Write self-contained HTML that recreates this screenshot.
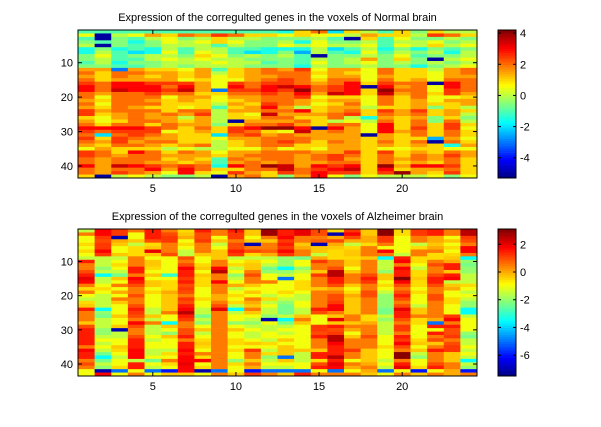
<!DOCTYPE html>
<html><head><meta charset="utf-8"><style>
body{margin:0;background:#fff;width:601px;height:422px;overflow:hidden;font-family:"Liberation Sans",sans-serif}
svg text{font-family:"Liberation Sans",sans-serif;font-size:11px}
</style></head><body>
<svg id="fig" width="601" height="422" viewBox="0 0 601 422"></svg>
<script>
const xTicks=[5,10,15,20];
const yTicks=[10,20,30,40];
const cbTicksTop=[4,2,0,-2,-4];
const cbTicksBot=[2,0,-2,-4,-6];
const normalRows=[
"-1 -1 -1 -1 -1 -1 -1 -1 -1 -1 -1 -1 -1.5 1 2 -2 1 0 -1 1 -0.5 1 0 0",
"0.5 -5 0 0.5 1.5 1 2 1.5 2.5 2 1 1 0.5 1 0.5 0.5 0 1.5 1 1 0 2.5 2 1",
"-1 -5 -0.5 -1 0 0.5 -0.5 0 1 0 0 -0.5 -0.5 -0.5 0 -1 -5 1 -1 0.5 -0.5 -0.5 0 -0.5",
"-0.5 -1 -0.5 -1.5 -0.5 0.5 0 0.5 1 0.5 -0.5 -0.5 0 -1.5 0.5 -0.5 -0.5 0 -1 0 0 0.5 -0.5 0",
"0 -5 -0.5 -1 -0.5 0 0 0 -1 0 -0.5 -0.5 0.5 0 0.5 0 0 0.5 -1 0.5 0 1 0 0.5",
"-1.5 -0.5 -1.5 -1 -1.5 0 -1 0 0 -1 -1 -1.5 -1.5 -1.5 0 -2 -1 0 -1.5 -0.5 -1.5 -0.5 -1 -0.5",
"-1.5 0 -1 -2 -1.5 0.5 -1 0.5 0 -1 -2 -1.5 -0.5 -2.5 0 -1 -1.5 0.5 -1 0 -0.5 0 -1.5 0",
"-0.5 0.5 -1 -0.5 0 0 -0.5 1 0.5 -0.5 0 -0.5 0 -1 -5 -0.5 -0.5 0 -0.5 0.5 -1 -0.5 -0.5 0",
"-0.5 0 -1 -1 0 0.5 0 0.5 0 0 -0.5 -0.5 -0.5 -1 0 -0.5 0 1.5 -0.5 1 -0.5 -5 0 0.5",
"-1 0 -1.5 -0.5 -0.5 0 0 0 0.5 0 0 -1 -0.5 -1 0.5 -0.5 0 0.5 -0.5 0 -0.5 0 -0.5 0",
"-0.5 -0.5 -1 -1 -0.5 0 -0.5 0 0 0 -0.5 -0.5 -0.5 -1.5 0 -0.5 -0.5 0 -0.5 -0.5 -1.5 -0.5 0 0.5",
"1.5 1.5 -3 1.5 1 1 0.5 1.5 -1 1 1.5 2 1.5 2.5 0.5 1.5 1.5 0.5 2 1 1 0 1.5 2",
"2 1 2 2 1.5 1.5 1 1.5 0 1 1.5 2 2 2 1 1.5 1 0.5 2 1 1 0.5 1.5 2",
"1.5 1 2 1.5 1 1.5 1 1.5 0.5 1 1.5 1.5 2 2 0.5 1.5 1.5 0.5 1.5 1 1 0.5 1.5 1.5",
"2 1 1.5 1.5 1.5 1.5 0.5 1 0.5 0.5 1.5 2 2.5 2 1 2 2 0.5 2 1 1.5 0.5 2 2",
"2.5 2 3 3 2.5 2.5 2.5 1.5 0.5 2.5 2 2.5 2.5 2 1.5 2 3 1 2.5 2 2 -5 3 2",
"3 2 3 3 3 2 3 1.5 0.5 3 2 3 3.5 3 2 2.5 3 -5 3 1.5 2 0.5 3 2",
"3 2 3.5 3 3 2.5 3.5 1.5 -3 2.5 2.5 3 2.5 4 2 2.5 3 1 4 2 2 0.5 2.5 2",
"2 1.5 2 2 2.5 2 2 1 1 2 2 2.5 2 3 1.5 3.5 3 1 3.5 1.5 2 1 2.5 1.5",
"2 0.5 2 2 2 0.5 1.5 1.5 0.5 1.5 1.5 2 2 2.5 0.5 1 1 0.5 2 1 2 0.5 0.5 1",
"1.5 1 2 2 1.5 1 1.5 1 0.5 1 1.5 2 2 1.5 1 1.5 1.5 0.5 2 1 1.5 0.5 1.5 1.5",
"2 0.5 2 2 2 1 1 1 0 1.5 1 2.5 2 1.5 0.5 1 2 0.5 2 1 1.5 1 1 1.5",
"1.5 1 2 1.5 1 1 0.5 1 -1 1 1.5 3 1.5 0 1 1.5 1.5 0 1 1 1.5 -0.5 1 0",
"2.5 1.5 2 2 2 1 2 2 0 1.5 1.5 2 2 3 1 1.5 2 1 2.5 1.5 2.5 1 1.5 1",
"2.5 1 1.5 2 1.5 2 1.5 2.5 0 1 0.5 3.5 1.5 1.5 1.5 2 2.5 1 2 1.5 2 1 1.5 0",
"1 0.5 1.5 2 1.5 1.5 0 1.5 0 1 1 2 2 1 1 2 0 -1.5 1.5 1 1.5 -0.5 1 -0.5",
"1.5 0.5 1 2 2 1.5 1 1.5 0 -5 1.5 1.5 1.5 2 1 0 0.5 0 2 1 2 -0.5 2 0",
"2 1 2 2 1 2 1.5 1.5 -0.5 1 2 2 2.5 1.5 1 2 2 0.5 3 1 2 1 2.5 1",
"3 3 3 3 2.5 2 1 2 1 2.5 3 4 4 3 -5 3 1.5 0.5 3 1 2.5 1 2.5 0.5",
"2.5 2 2.5 2.5 2.5 0.5 1 1.5 1 2.5 2 1 0.5 3.5 1.5 2 1.5 0.5 3 1.5 2 1 2 1",
"2 -2 2 2.5 2 1.5 1 1 -2 2 2.5 1.5 2 1.5 1.5 1.5 1.5 -5 1.5 1 2 1 2 1",
"2.5 1 2.5 2 1.5 1.5 1 1 0.5 1.5 1.5 2 2 2 1.5 1.5 1.5 1 1.5 1 1 -2.5 1.5 0.5",
"2 1.5 2.5 1.5 2 2 1 1 0 1 1.5 2 2.5 2 1 2 1.5 1 2 1 2 -5 2 1",
"1.5 1 2 2 1.5 1 1.5 2 0 1 1.5 2 2 1 1 1.5 1.5 1 1.5 1 1.5 1 -1.5 1.5",
"0.5 1.5 1 1 1 0 0.5 0 0 0.5 0.5 1.5 0.5 1 0.5 1.5 1.5 1 0.5 0.5 1 1 0.5 0.5",
"2.5 2 1 3 2 1 2 1.5 0.5 1.5 1.5 2 2 2 1.5 1.5 2.5 1 2.5 1 1.5 1 2 1.5",
"2.5 2 1.5 2 2 1.5 1.5 1.5 1 1.5 2 2 2 1.5 2 2.5 2 1 2 1 2 1.5 2.5 1.5",
"2 1.5 2 2 2 1 1.5 1 -1 2 1.5 2 2 1.5 2 2.5 1.5 1 2 1.5 2 1.5 2 1",
"2 1.5 2 2 1.5 1.5 1 1.5 -1 1.5 2 1.5 2 1.5 1.5 2 2 1 2 1 1.5 1 2 1",
"3 1.5 3.5 3 2.5 2 2.5 2 -1.5 3 2 4 3.5 1.5 3 2.5 3 1 4 1.5 3 3 2.5 1",
"2 1.5 2 2 3 1.5 3 2 1 1 2 2 3.5 2 2.5 3 3.5 1 3 1 1.5 1.5 2 1",
"2 1.5 2.5 2 1.5 0.5 3 1 0.5 2.5 1.5 1 2.5 2 3 2.5 2.5 1 2.5 4 1.5 1 2.5 1",
"1 -5 0 0.5 0 -0.5 -0.5 0 -5 1.5 2 1 -0.5 1.5 3 0.5 -0.5 0.5 0 0 0 0.5 -0.5 0.5"];
const alzRows=[
"-1.5 1.8 1.2 0.5 1.5 0.5 -0.5 1.5 0.5 1.5 -0.3 2.8 1.5 2 1 -0.5 1.2 -0.3 3 -0.5 1.2 1.5 0.5 2.5",
"0.5 1.8 1.2 -1 1.5 1 -0.3 1 0.5 1.2 -0.3 2.8 1.5 2 1 -7 1.8 -0.3 3 -0.5 1.2 1.5 0.5 2.5",
"-1 1.2 -7 -1 1.5 1.2 0 1 -1 1.2 -1 0.5 1.8 0.5 0.5 0 1 0 1.2 -1 0.5 0 -1 1.2",
"-1 1 0 -0.3 1 1.2 -1 1.2 -0.3 0.5 -0.3 -0.3 1.2 0.5 0.8 1 0 0 1.2 -1 0.5 0 -0.3 1",
"-0.5 1.2 -0.3 -1.5 -0.5 0.5 -0.5 0.5 -1.5 1 -7 0.5 1.5 -0.3 -7 0 -1.5 -0.5 0.5 -1 -1.5 -0.3 -1 0.5",
"-1 1.2 -1 -0.5 -0.3 0.5 -1 0.5 -1 1 0.5 0.5 1.2 0 -0.3 -0.3 -0.5 0.5 -1 -1 -0.5 0 -0.5 1.8",
"-0.5 1.8 -1 -0.5 2 0.5 -1.5 0.5 -0.3 1.5 1 0.8 1.8 0.5 -0.3 -0.5 -0.3 0.5 1.8 -1 0.5 0.5 -1 1.8",
"-1 1.2 -0.3 -0.5 -0.3 1 -1.5 -0.3 -0.3 1.2 -0.5 0 1.2 0.5 -1.5 -0.5 -0.3 0.5 0.5 -1.5 0.5 -0.5 -0.5 0.5",
"-1.5 -1.5 -1.5 0.5 -1 -1 1 -1 -0.3 -1.5 -1.5 -1.5 -2 -2.3 0 -0.5 -0.5 -0.3 -3.5 1.5 -0.5 -0.5 -0.3 -3.5",
"1.5 -1.5 -1 0.5 -0.3 -1 0.5 -1 0.5 -1 -0.5 -1 -2 -1 1.2 0.5 -0.3 0.5 -1.5 1.8 -0.5 0.5 0 -2",
"0.5 -1.5 -0.5 0.5 -0.3 -1 1 -0.5 0.5 -0.5 -0.3 -1.5 -2 -1 0.5 0.5 -0.3 0.5 -1.5 0.5 -1 1 1.5 -2.3",
"0.5 -2 -1 1.5 -0.5 -1 1.8 -0.3 1.8 -1.5 -0.3 -2.3 -3.5 -2 0.5 1 -1 0.5 -1.5 1.8 -1.5 0.5 1.5 -2",
"1 -1.5 -1.5 1.5 -1 -1 1.5 -1 2.5 -1 0.5 -2 -2 -1.5 -0.3 2.5 -0.3 0.5 -2 1.5 -0.5 0.5 -0.3 -2",
"1.5 -3.5 -2.3 0.5 -0.3 -3 1.5 -0.3 0.5 -2 1 -1 -1.5 -1 1.2 2.5 0.5 1 -0.3 1.5 -0.5 1 1.5 -1.5",
"2 -1.5 -0.3 1.8 -1 -1 1.2 -0.5 0.5 -1.5 0.5 -1 -5 -1 0.5 1.5 0.5 1.5 -0.3 3 -0.3 1.5 1.8 -1.5",
"1.8 -1.5 -1 1.5 -0.3 -0.5 1.5 -0.5 1.8 -1 0.5 0.5 -1 -0.5 0.5 1.5 0.5 1.2 -1 1.8 -0.5 1.5 -1.5 -1.5",
"0.5 -1 0.5 1 -0.3 -0.5 1 -0.5 0.5 0 -0.3 -1 -1 -0.5 0.5 1 -0.3 0.5 -0.5 1 -0.5 1 -0.3 -0.5",
"-0.5 -0.5 -1 0.5 -1 -0.5 1.2 -1 0.5 -1.5 -1 -1 -1 -0.5 -0.3 0 -1 0.5 -1 0.5 -1 0.5 0 -1",
"0.5 -1 0 0.5 -0.5 0 1 -1 0.5 -1 -0.3 -1 -0.5 -1 0.5 0.5 -0.5 1 -1.5 1 -0.5 0.5 -1 -1.5",
"-1 -1.5 -1 1 -1 -0.3 0.5 -1 0 -0.5 -1 -1.5 -1 -1.5 0.5 1 0 1 -2 1.5 -1 1 -1 -1",
"-1.5 -1.5 0.5 0.5 -1 -0.3 1.2 -0.5 0 -1 0.5 -0.5 -1.5 -1.5 0.5 1 -0.3 0.5 -2 1 -1 1 -0.5 -1.5",
"-0.5 -1.5 -0.3 0.5 -1 -0.3 1 -1 0.5 -0.5 0 -1.5 -2 -1 0.5 1.2 -0.3 0.5 -2 0.5 -1 0.5 -0.5 -2",
"-0.3 -1.5 -1 1 -1 -0.3 1.5 -1 1 -1.5 -0.3 -1 -2.3 -1 0.5 1.8 -0.3 0.5 -2 1 -1.5 0.5 -1 -2",
"1.5 -3.5 -1 1.5 -1.5 -0.3 1.8 -1.5 2 -3.5 0.5 -1.5 -2.3 -1.5 1.5 1.8 -0.3 0.5 -2.3 2 -0.3 0.5 -1 -3.5",
"0.5 -2 -1 1.2 -1.5 0.5 2.5 -1.5 0.5 -1.5 -0.3 -1.5 -2.3 -1.5 1 0.5 -0.3 0.5 -2.3 1.5 -0.3 0.5 -1 -3.5",
"0.5 -2.3 -0.3 1 -0.3 -1 1.5 -2.3 0.5 -1 -1 -2 -1.5 -0.3 -1 -0.3 0.5 -0.5 -1.5 1.5 0.5 0.5 1.2 -1.5",
"0.5 -1.5 -1 0.5 -1.5 -1 1.2 -1.5 0.5 -1 -1.5 -7 -3.5 0.5 -1 2 0.5 -0.5 -2 1 -0.5 0 1.8 -1",
"-0.3 -1.5 -1 1.8 0.5 -3.5 0.5 -2 0.5 -2 -2 -1 -2.3 -0.3 -1 -0.3 -0.3 0 -1.5 0.5 -0.5 -5 0.5 -1",
"1 -1.5 -0.3 1 -1.5 -0.3 0.5 -1 0.5 -1 -1.5 -1.5 -1.5 -1 1.2 1.5 0.5 0.5 -1.5 1.2 -1 1.5 1.5 -1",
"1.5 -2 -7 0.5 -1.5 -1 1 -0.3 0.5 -0.3 -1 -1.5 -1 -1 1.2 1 0 0.5 -1.5 1.2 -1 -1 1 -1",
"1.5 -2 -1.5 0.5 -1.5 -2 1 -1.5 0.5 -1 -1.5 -1 -1.5 -1 1 1.2 -1 0.5 -1.5 0.5 -1 1.5 1 -2",
"1.5 -1.5 -1.5 1 -1 -0.3 1.5 -1 0.5 -1 -1.5 -1 -1 -1 1.5 2.5 -0.3 1 -1 1.5 -1 0.5 1.2 -2.3",
"1.5 -1 -1 1.5 -1.5 -1 0.5 -0.5 0.5 -0.5 -1 -1.5 -0.3 -1 0.5 2.5 0.5 0.5 -1 1.2 -0.5 1 0.5 -1.5",
"1.5 -1.5 -1 1.5 -1 -1 1.5 -0.3 0.5 -0.5 -0.3 -0.5 -1 -1 0.5 1.8 0.5 0.5 -1 1.8 -0.3 -0.3 1 -1.5",
"0.5 -1 -0.3 1.5 -1 -1 1.5 -0.5 0.5 -1 -1 -1 -0.3 -1 0.5 1.5 0.5 0.5 -0.5 1 -1 0.5 1.2 -1",
"1.8 -1.5 -0.5 1.8 -1.5 -1.5 1.8 -1 0.5 -0.5 1.2 -1.5 -0.3 -0.3 -0.3 1.5 1.2 -0.3 -1 0.5 -0.3 1.5 1.2 -1.5",
"1.5 -2.3 -1 1.8 -1.5 -0.5 1.5 0.5 0.5 -1 0.5 -0.5 -0.3 -1.5 1.5 1.5 0.5 -0.3 -1 3 -1.5 0.5 -0.3 -1",
"1.5 -3.5 -1.5 1.8 -1 -1 1.8 -0.5 0.5 -1 0.5 -2 -5 -1.5 1.5 2.5 0.5 -0.3 -1 3 -2 0.5 -0.3 -1.5",
"0.5 -2.3 -1 -1.5 -2.3 0.5 1.8 1.8 0.5 -2 -0.3 -1.5 -0.3 -1.5 -0.5 1.5 -1 -0.3 -1.5 0.5 -1 0.5 -0.3 -3.5",
"1 -1.5 -1 1.5 -1 -0.5 2 -1 0.5 -0.5 0.5 -1 -1 -1 1 2 0.5 0 -1 1.5 -1 1 0.5 -1.5",
"0.5 -2 -0.5 1.5 -1.5 -1 1.8 -0.5 0.5 -1 0 -1.5 -1.5 -1 1.5 1.8 0 0.5 -1.5 2 -0.5 1.5 0.5 -2",
"-1 -7 -5 -1 -5 -6 1.8 -7 -5 -1 -6 -5 -5 -5 -1 -5 -1 0 -5 -1 -6 -1 0 -6",
"-1 1.8 -1 0.5 -1 -0.3 -0.3 -1 0.5 -0.3 1.2 0.5 -0.3 1.5 0.5 0.5 0.5 -0.3 -1 0.5 -0.3 0.5 0 0.5"];

const NS='http://www.w3.org/2000/svg';
const svg=document.getElementById('fig');
function mk(t,a,p){const e=document.createElementNS(NS,t);for(const k in a)e.setAttribute(k,a[k]);(p||svg).appendChild(e);return e;}
function jet(t){t=Math.max(0,Math.min(1,t));
 const r=Math.max(0,Math.min(1,1.5-Math.abs(4*t-3)));
 const g=Math.max(0,Math.min(1,1.5-Math.abs(4*t-2)));
 const b=Math.max(0,Math.min(1,1.5-Math.abs(4*t-1)));
 return `rgb(${Math.round(r*255)},${Math.round(g*255)},${Math.round(b*255)})`;}

function panel(name,title,rows,top,h,vmin,vmax,cbTicks){
 const L=78,W=399;
 const data=rows.map(r=>r.trim().split(/\s+/).map(Number));
 const nr=data.length,nc=data[0].length;
 const xs=c=>L+(c-0.5)*W/nc;
 const ys=r=>top+(r-0.5)*h/nr;
 const g=mk('g',{});
 
 
 data.forEach((row,i)=>row.forEach((v,j)=>{
  const x0=xs(j+0.5),x1=xs(j+1.5),y0=ys(i+0.5),y1=ys(i+1.5);
  const r=mk('rect',{x:x0,y:y0,width:x1-x0+0.3,height:y1-y0+0.3,fill:jet((v-vmin)/(vmax-vmin))},g);
  
  
 }));
 const fr=mk('rect',{x:L,y:top,width:W,height:h,fill:'none',stroke:'#000','stroke-width':1});
 
 
 xTicks.forEach(t=>{const x=xs(t);
  mk('line',{x1:x,x2:x,y1:top+h,y2:top+h-4,stroke:'#000'});
  mk('line',{x1:x,x2:x,y1:top,y2:top+4,stroke:'#000'});
  const tx=mk('text',{x:x,y:top+h+14,'text-anchor':'middle'});tx.textContent=t;
  
  });
 yTicks.forEach(t=>{const y=ys(t);
  mk('line',{x1:L,x2:L+4,y1:y,y2:y,stroke:'#000'});
  mk('line',{x1:L+W,x2:L+W-4,y1:y,y2:y,stroke:'#000'});
  const tx=mk('text',{x:L-5,y:y+4,'text-anchor':'end'});tx.textContent=t;
  
  });
 const tt=mk('text',{x:L+W/2,y:top-9,'text-anchor':'middle'});tt.textContent=title;
 
 
 const cx=498,cw=18,N=64;
 const cb=mk('g',{});
 
 
 for(let k=0;k<N;k++){mk('rect',{x:cx,y:top+h-(k+1)*h/N,width:cw,height:h/N+0.3,fill:jet((k+0.5)/N)},cb);}
 mk('rect',{x:cx,y:top,width:cw,height:h,fill:'none',stroke:'#000'},cb);
 const cy=v=>top+h-(v-vmin)/(vmax-vmin)*h;
 cbTicks.forEach(t=>{const y=cy(t);
  mk('line',{x1:cx,x2:cx+3,y1:y,y2:y,stroke:'#000'},cb);
  mk('line',{x1:cx+cw,x2:cx+cw-3,y1:y,y2:y,stroke:'#000'},cb);
  const tx=mk('text',{x:cx+cw+4,y:y+4},cb);tx.textContent=t;
  
  });
}
panel('normal','Expression of the corregulted genes in the voxels of Normal brain',normalRows,30,148,-5.3,4.2,cbTicksTop);
panel('alzheimer','Expression of the corregulted genes in the voxels of Alzheimer brain',alzRows,229,147,-7.5,3.1,cbTicksBot);
</script>
</body></html>
